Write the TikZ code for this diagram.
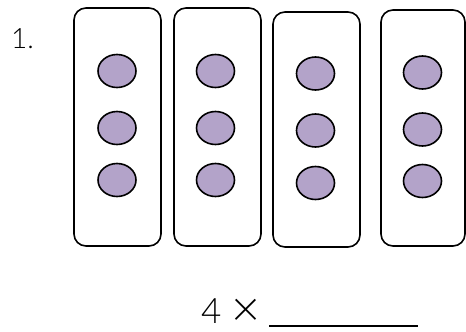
\documentclass[tikz,border=0pt]{standalone}
\usepackage{fontspec}
\setmainfont{Lato}[UprightFont={* Light}]
\usetikzlibrary{shapes.geometric}
\definecolor{dotfill}{HTML}{B3A3C9}

\begin{document}
\begin{tikzpicture}[
    x=1pt, y=-1pt,
    tray/.style={
        draw,
        line width=1.6pt,
        rounded corners=12pt,
        inner sep=0pt
    },
    counter/.style={
        ellipse,
        draw,
        line width=1.6pt,
        fill=dotfill,
        minimum width=38pt,
        minimum height=33pt,
        inner sep=0pt
    },
    label/.style={inner sep=0pt, anchor=base west}
]
\useasboundingbox (0,0) rectangle (466,332);

% trays
\foreach \n/\cx/\cy/\w/\h in {1/117.5/127/87/238, 2/217.5/127/87/238, 3/316.5/129.5/87/235, 4/423/128/84/236}
    \node[tray, minimum width=\w pt, minimum height=\h pt] (tray\n) at (\cx,\cy) {};

% counters, three per tray
\foreach \n/\cx/\ya/\yb/\yc in {1/117/71/128/180, 2/215.5/71/128/180, 3/315.5/73.5/130.5/183, 4/422.5/72.5/129.5/181} {
    \node[counter] (dot\n-1) at (\cx,\ya) {};
    \node[counter] (dot\n-2) at (\cx,\yb) {};
    \node[counter] (dot\n-3) at (\cx,\yc) {};
}

\node[label, font=\fontsize{28}{30}\selectfont] (num) at (11,48) {1.};
\node[label, font=\fontsize{35}{38}\selectfont] (factor) at (201,323) {4};
\node[inner sep=0pt, font=\fontsize{50}{52}\selectfont] (times) at (245.5,312.5) {×};

\coordinate (blank start) at (269,326);
\coordinate (blank end) at (418,326);
\draw[line width=1.5pt] (blank start) -- (blank end);
\end{tikzpicture}
\end{document}
